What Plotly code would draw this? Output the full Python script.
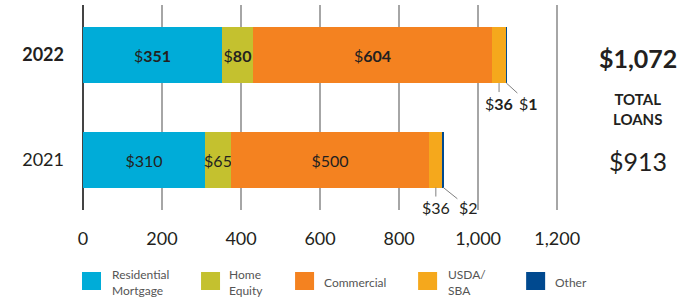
import plotly.graph_objects as go

years = ["2021", "2022"]
bold_year = "2022"
series_names = ["Residential Mortgage", "Home Equity", "Commercial", "USDA/SBA", "Other"]
legend_labels = ["Residential<br>Mortgage", "Home<br>Equity", "Commercial", "USDA/<br>SBA", "Other"]
colors = ["#00acd8", "#c4c12f", "#f48220", "#f5a81c", "#00498f"]

residential = [310, 351]
home_equity = [65, 80]
commercial = [500, 604]
usda_sba = [36, 36]
other = [2, 1]
series_values = [residential, home_equity, commercial, usda_sba, other]

x_ticks = [0, 200, 400, 600, 800, 1000, 1200]
x_tick_labels = ["0", "200", "400", "600", "800", "1,000", "1,200"]

FONT = "Lato"
TXT = "#231f20"

# pixel layout helpers
L, T = 83, 5
XMAX = 1230
PXU = 0.395
PW = XMAX * PXU
PH = 205
W, H = 692, 297

def px(xp):
    return (xp - L) / PW

def py(yp):
    return (T + PH - yp) / PH

ypos = list(range(len(years)))

def money(v, yr):
    return f"$<b>{v:,}</b>" if yr == bold_year else f"${v:,}"

fig = go.Figure()
inside = [True, True, True, False, False]
for name, vals, col, ins in zip(series_names, series_values, colors, inside):
    fig.add_trace(go.Bar(
        y=ypos, x=vals, orientation="h", name=name,
        marker=dict(color=col, line=dict(width=0)),
        width=0.536,
        text=[money(v, yr) if ins else "" for v, yr in zip(vals, years)],
        textposition="inside", insidetextanchor="middle", textangle=0,
        textfont=dict(family=FONT, size=16, color=TXT),
        constraintext="none",
        showlegend=False,
    ))

annotations = []
# small-segment callouts
offsets = {"USDA/SBA": [(0, 20), (0, 20)], "Other": [(25, 20), (22, 20)]}
for i, yr in enumerate(years):
    for k, name in [(3, "USDA/SBA"), (4, "Other")]:
        start = sum(s[i] for s in series_values[:k])
        mid = start + series_values[k][i] / 2
        ax, ay = offsets[name][i]
        annotations.append(dict(
            x=mid, y=i - 0.268, xref="x", yref="y",
            text=money(series_values[k][i], yr),
            showarrow=True, arrowhead=0, arrowwidth=1, arrowcolor="#808080",
            ax=ax, ay=ay, standoff=0,
            font=dict(family=FONT, size=16, color=TXT),
        ))

# totals on the right
totals = [sum(s[i] for s in series_values) for i in range(len(years))]
for i, yr in enumerate(years):
    t = f"${totals[i]:,}"
    yp = 58 if yr == bold_year else 161
    annotations.append(dict(
        x=px(638), y=py(yp), xref="paper", yref="paper", showarrow=False,
        text=f"<b>{t}</b>" if yr == bold_year else t,
        font=dict(family=FONT, size=25, color=TXT), xanchor="center", yanchor="middle",
    ))
annotations.append(dict(
    x=px(637), y=py(109), xref="paper", yref="paper", showarrow=False,
    text="<b>TOTAL<br>LOANS</b>", font=dict(family=FONT, size=15, color=TXT),
    xanchor="center", yanchor="middle",
))

# manual legend
sq_left = [82, 201, 295, 418, 526]
txt_left = [110, 227, 322, 446, 553]
shapes = []
for lab, col, sx, tx in zip(legend_labels, colors, sq_left, txt_left):
    shapes.append(dict(type="rect", xref="paper", yref="paper",
                       x0=px(sx), x1=px(sx + 19), y0=py(272), y1=py(290),
                       fillcolor=col, line=dict(width=0)))
    annotations.append(dict(
        x=px(tx), y=py(282), xref="paper", yref="paper", showarrow=False,
        text=lab, align="left", xanchor="left", yanchor="middle",
        font=dict(family=FONT, size=12, color="#555555"),
    ))

fig.update_layout(
    width=W, height=H,
    margin=dict(l=L, r=W - L - PW, t=T, b=H - T - PH, pad=0, autoexpand=False),
    plot_bgcolor="white", paper_bgcolor="white",
    barmode="stack", bargap=0,
    annotations=annotations, shapes=shapes,
    font=dict(family=FONT, color=TXT),
)
fig.update_xaxes(
    range=[0, XMAX], tickvals=x_ticks, ticktext=x_tick_labels,
    showgrid=True, gridcolor="#a6a6a6", gridwidth=1.5,
    zeroline=True, zerolinecolor="#444444", zerolinewidth=1.5,
    showline=False, ticks="", ticklabelstandoff=16, automargin=False,
    tickfont=dict(family=FONT, size=18, color=TXT),
)
fig.update_yaxes(
    range=[-0.483, 1.479], tickvals=ypos,
    ticktext=[f"<b>{y}</b>" if y == bold_year else y for y in years],
    showgrid=False, zeroline=False, showline=False, ticks="",
    ticklabelstandoff=18, automargin=False,
    tickfont=dict(family=FONT, size=18, color=TXT),
)

fig.write_html("out.html", config={"displayModeBar": False},
               post_script="document.body.style.margin='0';document.body.style.overflow='hidden';")
